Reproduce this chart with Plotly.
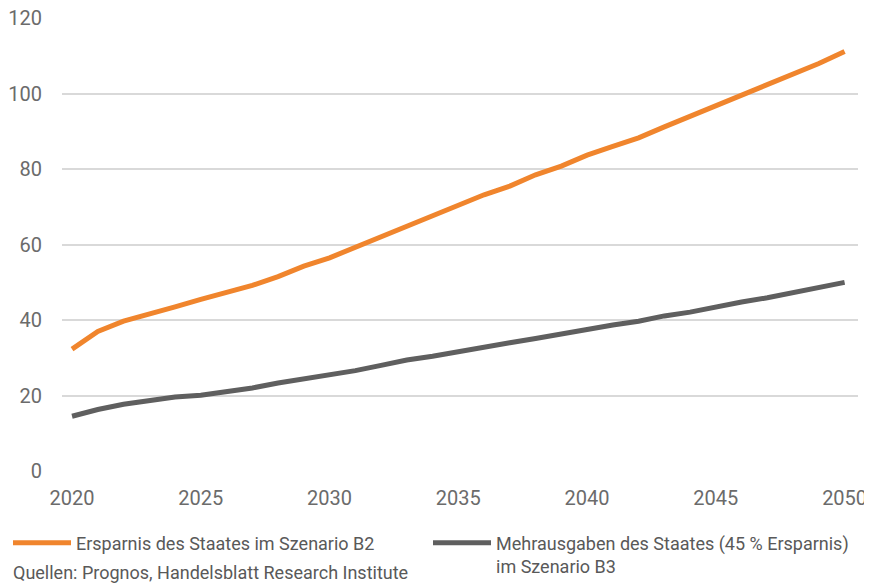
import plotly.graph_objects as go

years = list(range(2020, 2051))
ersparnis_b2 = [32.3, 37.0, 39.7, 41.5, 43.5, 45.5, 47.3, 49.2, 51.5, 54.3,
                56.5, 59.3, 62.0, 64.8, 67.5, 70.3, 73.2, 75.5, 78.5, 80.8,
                83.7, 86.0, 88.3, 91.2, 94.0, 97.0, 99.8, 102.7, 105.3, 108.0, 111.2]
mehrausgaben_b3 = [14.5, 16.3, 17.7, 18.6, 19.6, 20.1, 21.0, 22.0, 23.3, 24.3,
                   25.6, 26.6, 28.0, 29.4, 30.4, 31.7, 32.7, 34.0, 35.1, 36.4,
                   37.4, 38.7, 39.7, 41.1, 42.1, 43.5, 44.8, 45.9, 47.3, 48.6, 50.0]
series_names = ["Ersparnis des Staates im Szenario B2",
                "Mehrausgaben des Staates (45 % Ersparnis)<br>im Szenario B3"]
x_ticks = [2020, 2025, 2030, 2035, 2040, 2045, 2050]
y_ticks = [0, 20, 40, 60, 80, 100, 120]
source = "Quellen: Prognos, Handelsblatt Research Institute"

tick_font = dict(family="Roboto, sans-serif", size=20, color="#6B6B6B")
leg_font = dict(family="Roboto, sans-serif", size=18, color="#595959")

FIG_W, FIG_H = 864, 576
ML, MR, MT, MB = 54, 14, 10, 113
PLOT_W = FIG_W - ML - MR
PLOT_H = FIG_H - MT - MB

fig = go.Figure()
fig.add_trace(go.Scatter(x=years, y=ersparnis_b2, mode="lines", name=series_names[0],
                         line=dict(color="#F0852D", width=5), legend="legend"))
fig.add_trace(go.Scatter(x=years, y=mehrausgaben_b3, mode="lines", name=series_names[1],
                         line=dict(color="#5F5F5F", width=5), legend="legend2"))

leg_common = dict(orientation="h", xref="container", xanchor="left",
                  y=1 - 516.5 / FIG_H, yref="container", yanchor="top",
                  font=leg_font, itemwidth=58, valign="top",
                  bgcolor="rgba(0,0,0,0)")

fig.update_layout(
    width=FIG_W, height=FIG_H,
    margin=dict(l=ML, r=MR, t=MT, b=MB),
    paper_bgcolor="white", plot_bgcolor="white",
    showlegend=True,
    legend=dict(x=-1 / FIG_W, **leg_common),
    legend2=dict(x=420 / FIG_W, **leg_common),
    annotations=[dict(text=source, x=(3 - ML) / PLOT_W, xref="paper",
                      y=(463 - 564) / PLOT_H, yref="paper",
                      xanchor="left", yanchor="middle", showarrow=False,
                      font=leg_font)],
)
fig.update_xaxes(range=[2019.61, 2050.52], tickvals=x_ticks, showgrid=False,
                 zeroline=False, showline=False, ticks="", tickfont=tick_font,
                 ticklabelstandoff=13, automargin=False)
fig.update_yaxes(range=[0, 120.05], tickvals=y_ticks, showgrid=True, gridcolor="#D9D9D9",
                 gridwidth=1.5, zeroline=False, showline=False, ticks="",
                 tickfont=tick_font, ticklabelstandoff=19, automargin=False,
                 ticklabeloverflow="allow")

fig.write_html("out.html")
